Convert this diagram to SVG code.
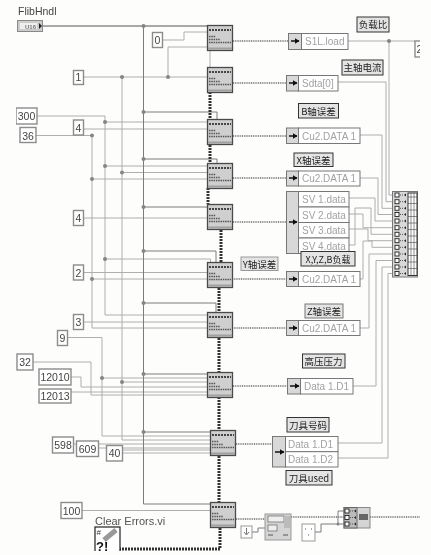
<svg xmlns="http://www.w3.org/2000/svg" width="431" height="555" viewBox="0 0 431 555">
<style>
text{font-family:"Liberation Sans",Arial,sans-serif;font-size:10.500px;fill:#444}
.w,.k,.d,.e{fill:none}
.w{stroke:#aeaeae;stroke-width:1}
.k{stroke:#7c7c7c;stroke-width:1}
.d{stroke:#8e8e8e;stroke-width:2;stroke-dasharray:1 .8}
.e{stroke:#333;stroke-width:3;stroke-dasharray:2 1}
.j{fill:#858585}
.c{fill:#fff;stroke:#8c8c8c;stroke-width:1.4}
.b{fill:#fff;stroke:#777;stroke-width:1}
.g{fill:#d8d8d8;stroke:#777;stroke-width:1}
.t{fill:#a2a2a2;font-size:10px}
.l{fill:#e4e4e4;stroke:#333;stroke-width:1}
.z{font-family:"Noto Sans CJK SC","Liberation Sans",sans-serif;font-size:9.500px;fill:#222;text-anchor:middle}
</style>
<defs>
<filter id="soft" x="0" y="0" width="100%" height="100%"><feGaussianBlur stdDeviation="0.35"/></filter>
<clipPath id="crop"><rect x="0" y="0" width="420" height="551"/></clipPath>
<symbol id="vi" width="26" height="26" viewBox="0 0 26 26" overflow="visible">
<rect x="0.500" y="0.500" width="25" height="25" fill="#cfcfcf" stroke="#4a4a4a" stroke-width="1.300"/>
<path d="M2 5H24" stroke="#444" stroke-width="2.200" stroke-dasharray="2 1"/>
<path d="M2 11.500H9M2 14.500H13M2 17.500H24" stroke="#555" stroke-width="1.300" stroke-dasharray="1.500 .8"/>
<rect x="1" y="22.500" width="24" height="2" fill="#a0a0a0"/>
</symbol>
<symbol id="row" width="26" height="6" viewBox="0 0 26 6" overflow="visible">
<rect x="3" y="1" width="4" height="4" fill="#fff" stroke="#222" stroke-width=".9"/>
<path d="M8 3h4" stroke="#555" stroke-width="1" stroke-dasharray="1 1"/>
<path d="M12 3l2-1.500v3z" fill="#222"/>
</symbol>
<marker id="ar" markerWidth="5" markerHeight="6" refX="4.500" refY="3" orient="auto" markerUnits="userSpaceOnUse"><path d="M0 0L5 3L0 6z" fill="#111"/></marker>
</defs>
<rect width="431" height="555" fill="#fdfdfc"/>
<g clip-path="url(#crop)" filter="url(#soft)">
<g id="connectors">
<path class="w" d="M43 26H207M162 40H184V32H207M83 77H207M168 77V47H207M122 77V440H210M122 172.500H207M122 382H207"/>
<path class="w" d="M37 116H105V315H207M105 122H207M105 166H207M105 259H210.500V262M83 129H207M36 135.500H92V328H207M92 179H207M92 279H207"/>
<path class="w" d="M83 218H207M83 272.500H207M83 322H207M67 337.500H102V436H210M102 378H207M33 362H91V395H207M71 377H81V387H207M71 392H207"/>
<path class="w" d="M73 444H210M98 448H210M106 450H210M122 453H210M82 510.500H210"/>
<path class="k" d="M43 26H207M143.500 26V504H210M143.500 112H217V119M143.500 159H217V163M143.500 207H207M143.500 251H216V262M143.500 303H216V312M143.500 374H207M143.500 432H210"/>
<path class="w" d="M210 50V67" stroke-width="2"/>
<path class="e" d="M210 92V119M210 145V163M208 188V204M221 230V262M219 288V312M219 338V372M219 397V430M219 456V502M220 528V549H120"/>
<path class="d" d="M233 41H288M233 83H286M233 136H286M233 178H286M233 222H286M232 279H286M232 328H286M233 386H287M236 444H272M236 519H265M291 517H344M370 517H420"/>
<path class="w" d="M348 41H415M389 41V195H395M338 82H386V201.700H395M360 135H382V208.300H395M360 178H378V214.500H395"/>
<path class="w" d="M349 198H375V221H395M349 214H363V227.700H395M349 245H355V208H371V234.300H395M349 229H368V240.700H395M360 279H363V241H372V247.300H395M360 328H369V254H395"/>
<path class="w" d="M353 386H376V260.500H395M338 443H382V267H395M338 458H388V273.500H395"/>
<path class="k" d="M252 532H258V528H265M315 532H321V524H344M338 524V511H344"/>
<circle class="j" cx="143.500" cy="26" r="2"/><circle class="j" cx="143.500" cy="112" r="2"/><circle class="j" cx="143.500" cy="159" r="2"/><circle class="j" cx="143.500" cy="207" r="2"/><circle class="j" cx="143.500" cy="251" r="2"/><circle class="j" cx="143.500" cy="303" r="2"/><circle class="j" cx="143.500" cy="374" r="2"/><circle class="j" cx="143.500" cy="432" r="2"/>
<circle class="j" cx="122" cy="77" r="2"/><circle class="j" cx="168" cy="77" r="2"/><circle class="j" cx="122" cy="172.500" r="2"/><circle class="j" cx="122" cy="382" r="2"/>
<circle class="j" cx="105" cy="122" r="2"/><circle class="j" cx="105" cy="166" r="2"/><circle class="j" cx="105" cy="259" r="2"/><circle class="j" cx="92" cy="135.500" r="2"/><circle class="j" cx="92" cy="179" r="2"/><circle class="j" cx="92" cy="279" r="2"/><circle class="j" cx="102" cy="378" r="2"/><circle class="j" cx="389" cy="41" r="2"/><circle class="j" cx="338" cy="524" r="1.500"/>
</g>
<g id="flibhndl"><text x="18" y="15">FlibHndl</text><rect x="17.500" y="20.500" width="25" height="11" fill="#ccc" stroke="#888"/><rect x="20" y="23" width="17" height="6" fill="#eee"/><text x="25" y="29" style="font-size:6px;fill:#777;font-weight:bold">U16</text><path d="M39 23l3 3-3 3z" fill="#222"/></g>
<g id="c0"><rect class="c" x="152.500" y="32.500" width="10" height="15"/><text x="157.500" y="44" text-anchor="middle">0</text></g>
<g id="c1"><rect class="c" x="73.500" y="70.500" width="10" height="14"/><text x="78.500" y="81" text-anchor="middle">1</text></g>
<g id="c300"><rect class="c" x="16" y="108" width="21" height="16"/><text x="26.500" y="120" text-anchor="middle">300</text></g>
<g id="c36"><rect class="c" x="20" y="127.500" width="16" height="15"/><text x="28" y="139.500" text-anchor="middle">36</text></g>
<g id="c4a"><rect class="c" x="73.500" y="120" width="10" height="15"/><text x="78.500" y="131.500" text-anchor="middle">4</text></g>
<g id="c4b"><rect class="c" x="73.500" y="210.500" width="10" height="15"/><text x="78.500" y="222" text-anchor="middle">4</text></g>
<g id="c2"><rect class="c" x="73.500" y="265" width="10" height="15"/><text x="78.500" y="276.500" text-anchor="middle">2</text></g>
<g id="c3"><rect class="c" x="73.500" y="314.500" width="10" height="15"/><text x="78.500" y="326" text-anchor="middle">3</text></g>
<g id="c9"><rect class="c" x="57.500" y="330.500" width="10" height="15"/><text x="62.500" y="342" text-anchor="middle">9</text></g>
<g id="c32"><rect class="c" x="17" y="354" width="16" height="16"/><text x="25" y="366" text-anchor="middle">32</text></g>
<g id="c12010"><rect class="c" x="39" y="369" width="32" height="16"/><text x="55" y="381" text-anchor="middle">12010</text></g>
<g id="c12013"><rect class="c" x="39" y="389" width="32" height="14"/><text x="55" y="400" text-anchor="middle">12013</text></g>
<g id="c598"><rect class="c" x="52.500" y="437" width="21" height="16"/><text x="63" y="449" text-anchor="middle">598</text></g>
<g id="c609"><rect class="c" x="76.500" y="441" width="22" height="15.500"/><text x="87.500" y="453" text-anchor="middle">609</text></g>
<g id="c40"><rect class="c" x="106.500" y="445.500" width="16" height="15.500"/><text x="114.500" y="457" text-anchor="middle">40</text></g>
<g id="c100"><rect class="c" x="61" y="502.500" width="21" height="16"/><text x="71.500" y="514.500" text-anchor="middle">100</text></g>
<g id="vi1"><use href="#vi" x="207" y="25"/></g>
<g id="vi2"><use href="#vi" x="207" y="67"/></g>
<g id="vi3"><use href="#vi" x="207" y="119"/></g>
<g id="vi4"><use href="#vi" x="207" y="163"/></g>
<g id="vi5"><use href="#vi" x="207" y="204"/></g>
<g id="vi6"><use href="#vi" x="207" y="262"/></g>
<g id="vi7"><use href="#vi" x="207" y="312"/></g>
<g id="vi8"><use href="#vi" x="207" y="372"/></g>
<g id="vi9"><use href="#vi" x="210" y="430"/></g>
<g id="vi10"><use href="#vi" x="210" y="502"/></g>
<g id="u1"><rect class="g" x="288.500" y="33.500" width="13" height="16"/><rect class="b" x="301.500" y="33.500" width="46.500" height="16"/><path d="M291 41H299" stroke="#111" stroke-width="1.500" marker-end="url(#ar)"/><text class="t" x="305" y="45">S1L.load</text></g>
<g id="u2"><rect class="g" x="286.500" y="75.500" width="12" height="15.500"/><rect class="b" x="298.500" y="75.500" width="39.500" height="15.500"/><path d="M289 83H297" stroke="#111" stroke-width="1.500" marker-end="url(#ar)"/><text class="t" x="302" y="87">Sdta[0]</text></g>
<g id="u3"><rect class="g" x="286.500" y="128" width="12" height="15.500"/><rect class="b" x="298.500" y="128" width="61.500" height="15.500"/><path d="M289 136H297" stroke="#111" stroke-width="1.500" marker-end="url(#ar)"/><text class="t" x="302" y="139.500">Cu2.DATA 1</text></g>
<g id="u4"><rect class="g" x="286.500" y="171" width="12" height="15"/><rect class="b" x="298.500" y="171" width="61.500" height="15"/><path d="M289 178H297" stroke="#111" stroke-width="1.500" marker-end="url(#ar)"/><text class="t" x="302" y="182">Cu2.DATA 1</text></g>
<g id="u5"><rect class="g" x="286.500" y="191.500" width="12" height="62"/><rect class="b" x="298.500" y="191.500" width="50.500" height="15.500"/><rect class="b" x="298.500" y="207" width="50.500" height="15.500"/><rect class="b" x="298.500" y="222.500" width="50.500" height="15.500"/><rect class="b" x="298.500" y="238" width="50.500" height="15.500"/><path d="M289 222H297" stroke="#111" stroke-width="1.500" marker-end="url(#ar)"/><text class="t" x="302" y="203">SV 1.data</text><text class="t" x="302" y="218.500">SV 2.data</text><text class="t" x="302" y="234">SV 3.data</text><text class="t" x="302" y="249.500">SV 4.data</text></g>
<g id="u6"><rect class="g" x="286.500" y="271.500" width="12" height="15"/><rect class="b" x="298.500" y="271.500" width="61.500" height="15"/><path d="M289 279H297" stroke="#111" stroke-width="1.500" marker-end="url(#ar)"/><text class="t" x="302" y="283">Cu2.DATA 1</text></g>
<g id="u7"><rect class="g" x="286.500" y="320.500" width="12" height="15"/><rect class="b" x="298.500" y="320.500" width="61.500" height="15"/><path d="M289 328H297" stroke="#111" stroke-width="1.500" marker-end="url(#ar)"/><text class="t" x="302" y="332">Cu2.DATA 1</text></g>
<g id="u8"><rect class="g" x="287.500" y="378.500" width="13" height="15.500"/><rect class="b" x="300.500" y="378.500" width="52.500" height="15.500"/><path d="M290 386H299" stroke="#111" stroke-width="1.500" marker-end="url(#ar)"/><text class="t" x="304" y="390">Data 1.D1</text></g>
<g id="u9"><rect class="g" x="272.500" y="436.500" width="13" height="30.500"/><rect class="b" x="285.500" y="436.500" width="52.500" height="15.200"/><rect class="b" x="285.500" y="451.700" width="52.500" height="15.300"/><path d="M275 452H284" stroke="#111" stroke-width="1.500" marker-end="url(#ar)"/><text class="t" x="288" y="447.500">Data 1.D1</text><text class="t" x="288" y="463">Data 1.D2</text></g>
<g id="bundle"><rect x="392.500" y="191.500" width="25" height="85.500" fill="#d8d8d8" stroke="#777"/><rect x="408" y="193" width="9" height="82.500" fill="#fff" stroke="#333"/><path d="M408 197h9M408 203.500h9M408 210h9M408 216.500h9M408 223h9M408 229.500h9M408 236h9M408 242.500h9M408 249h9M408 255.500h9M408 262h9M408 268.500h9M411 193v82M414 193v82" stroke="#444" stroke-width=".6"/>
<use href="#row" x="392" y="192"/><use href="#row" x="392" y="198.700"/><use href="#row" x="392" y="205.300"/><use href="#row" x="392" y="211.500"/><use href="#row" x="392" y="218"/><use href="#row" x="392" y="224.700"/><use href="#row" x="392" y="231.300"/><use href="#row" x="392" y="237.700"/><use href="#row" x="392" y="244.300"/><use href="#row" x="392" y="251"/><use href="#row" x="392" y="257.500"/><use href="#row" x="392" y="264"/><use href="#row" x="392" y="270.500"/></g>
<g id="c2b"><rect class="c" x="415" y="41" width="10" height="16"/><text x="416.500" y="53">2</text></g>
<g id="lb1"><rect class="l" x="357" y="17" width="32" height="15"/><text class="z" x="373" y="28">负载比</text></g>
<g id="lb2"><rect class="l" x="342" y="60" width="41" height="15"/><text class="z" x="362.500" y="71">主轴电流</text></g>
<g id="lb3"><rect class="l" x="298.500" y="103.500" width="40" height="14.500"/><text class="z" x="318.500" y="114.500">B轴误差</text></g>
<g id="lb4"><rect class="l" x="294" y="153" width="39" height="13.500"/><text class="z" x="313.500" y="163.500">X轴误差</text></g>
<g id="lb5"><rect class="l" x="301" y="251.500" width="54" height="14.500"/><text class="z" x="328" y="262.500" style="font-size:9px">X,Y,Z,B负载</text></g>
<g id="lb6"><rect class="l" x="241" y="257" width="37" height="13.500" style="stroke:#999"/><text class="z" x="259.500" y="267.500">Y轴误差</text></g>
<g id="lb7"><rect class="l" x="305" y="304" width="38" height="14" style="stroke:#777"/><text class="z" x="324" y="314.500">Z轴误差</text></g>
<g id="lb8"><rect class="l" x="302.500" y="354" width="42.500" height="14"/><text class="z" x="323.500" y="364.500">高压压力</text></g>
<g id="lb9"><rect class="l" x="287" y="417.500" width="42" height="14.500"/><text class="z" x="308" y="428.500">刀具号码</text></g>
<g id="lb10"><rect class="l" x="286" y="470.500" width="46" height="14.500"/><text class="z" x="309" y="481.500">刀具used</text></g>
<g id="clear"><text x="95" y="525" style="font-size:11px;fill:#555">Clear Errors.vi</text><rect x="95" y="527" width="25" height="27" fill="#fff" stroke="#222" stroke-width="1.200"/><text x="96.500" y="535" style="font-size:8px;fill:#333">#</text><path d="M104 540L116 530" stroke="#999" stroke-width="5"/><text x="96" y="551" style="font-size:13px;font-weight:bold;fill:#111">?!</text></g>
<g id="fmt"><rect x="265" y="514" width="26" height="26" fill="#d4d4d4" stroke="#999"/><rect x="268" y="516" width="16" height="6" fill="#eee" stroke="#666" stroke-width=".7"/><rect x="268" y="525" width="9" height="6" fill="#eee" stroke="#666" stroke-width=".7"/><rect x="284" y="516" width="6" height="12" fill="#bbb"/><path d="M268 535h5M283 535h5" stroke="#555"/></g>
<g id="k1"><rect x="241" y="526" width="11" height="12" fill="#fff" stroke="#999"/><path d="M246.500 528v6M244 532l2.500 3 2.500-3" stroke="#777" fill="none"/></g>
<g id="k2"><rect x="302" y="524" width="13" height="17" fill="#fff" stroke="#999"/><path d="M305 529h1M311 529h1M308 535h1" stroke="#555"/></g>
<g id="build"><rect x="344" y="507.500" width="26" height="20.500" fill="#d4d4d4" stroke="#888"/><rect x="344" y="507.500" width="13" height="20.500" fill="#bbb" stroke="#666"/><use href="#row" x="342" y="508"/><use href="#row" x="342" y="514.500"/><use href="#row" x="342" y="521"/><rect x="359" y="514" width="9" height="6" fill="#666"/></g>
</g>
</svg>
